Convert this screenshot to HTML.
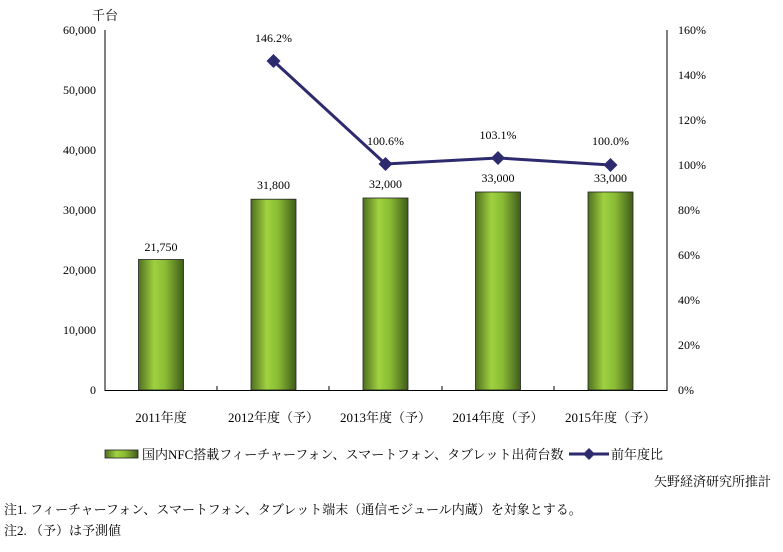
<!DOCTYPE html>
<html><head><meta charset="utf-8"><style>
body{margin:0;background:#fff;}
svg text{font-family:"Liberation Serif","Noto Serif CJK SC",serif;fill:#000;}
</style></head><body>
<svg width="783" height="547" xmlns="http://www.w3.org/2000/svg">
<defs>
<linearGradient id="g" x1="0" x2="1" y1="0" y2="0">
<stop offset="0" stop-color="#4f7020"/>
<stop offset="0.35" stop-color="#9fd140"/>
<stop offset="0.6" stop-color="#8abb35"/>
<stop offset="1" stop-color="#405c1a"/>
</linearGradient>
</defs>
<text x="92" y="20" font-size="13">千台</text>
<g font-size="12" text-anchor="end">
<text x="96" y="34">60,000</text>
<text x="96" y="94">50,000</text>
<text x="96" y="154">40,000</text>
<text x="96" y="214">30,000</text>
<text x="96" y="274">20,000</text>
<text x="96" y="334">10,000</text>
<text x="96" y="394">0</text>
</g>
<g font-size="12" text-anchor="start">
<text x="678" y="34">160%</text>
<text x="678" y="79">140%</text>
<text x="678" y="124">120%</text>
<text x="678" y="169">100%</text>
<text x="678" y="214">80%</text>
<text x="678" y="259">60%</text>
<text x="678" y="304">40%</text>
<text x="678" y="349">20%</text>
<text x="678" y="394">0%</text>
</g>
<g stroke="#000" stroke-width="1" fill="none">
<line x1="105" y1="30" x2="105" y2="391"/>
<line x1="667" y1="30" x2="667" y2="391"/>
<line x1="105" y1="390.5" x2="667" y2="390.5"/>
<line x1="217" y1="386" x2="217" y2="390"/>
<line x1="329" y1="386" x2="329" y2="390"/>
<line x1="442" y1="386" x2="442" y2="390"/>
<line x1="554" y1="386" x2="554" y2="390"/>
</g>
<g fill="url(#g)" stroke="#222" stroke-width="0.8">
<rect x="138.5" y="259.5" width="45" height="130.5"/>
<rect x="251" y="199.2" width="45" height="190.8"/>
<rect x="363" y="198" width="45" height="192"/>
<rect x="475.5" y="192" width="45" height="198"/>
<rect x="588" y="192" width="45" height="198"/>
</g>
<g font-size="12" text-anchor="middle">
<text x="161" y="251">21,750</text>
<text x="273.5" y="189">31,800</text>
<text x="385.5" y="188">32,000</text>
<text x="498" y="182">33,000</text>
<text x="610.5" y="182">33,000</text>
</g>
<polyline points="273.5,61 385.5,164 498,158 610.5,165" fill="none" stroke="#2e2a6e" stroke-width="3"/>
<g fill="#2e2a6e">
<path d="M273.5,54 L280.5,61 L273.5,68 L266.5,61Z"/>
<path d="M385.5,157 L392.5,164 L385.5,171 L378.5,164Z"/>
<path d="M498,151 L505,158 L498,165 L491,158Z"/>
<path d="M610.5,158 L617.5,165 L610.5,172 L603.5,165Z"/>
</g>
<g font-size="12" text-anchor="middle">
<text x="273.5" y="42">146.2%</text>
<text x="385.5" y="145">100.6%</text>
<text x="498" y="139">103.1%</text>
<text x="610.5" y="145">100.0%</text>
</g>
<g font-size="13" text-anchor="middle">
<text x="161" y="422">2011年度</text>
<text x="273.5" y="422">2012年度（予）</text>
<text x="385.5" y="422">2013年度（予）</text>
<text x="498" y="422">2014年度（予）</text>
<text x="610.5" y="422">2015年度（予）</text>
</g>
<rect x="105" y="450" width="33" height="8" fill="url(#g)" stroke="#222" stroke-width="0.8"/>
<text x="142" y="459" font-size="13">国内NFC搭載フィーチャーフォン、スマートフォン、タブレット出荷台数</text>
<line x1="569" y1="454" x2="609" y2="454" stroke="#2e2a6e" stroke-width="3"/>
<path d="M589,448 L595,454 L589,460 L583,454Z" fill="#2e2a6e"/>
<text x="611" y="459" font-size="13">前年度比</text>
<text x="771" y="486" font-size="13" text-anchor="end">矢野経済研究所推計</text>
<text x="4" y="514" font-size="13">注1.  フィーチャーフォン、スマートフォン、タブレット端末（通信モジュール内蔵）を対象とする。</text>
<text x="4" y="535" font-size="13">注2.  （予）は予測値</text>
</svg>
</body></html>
